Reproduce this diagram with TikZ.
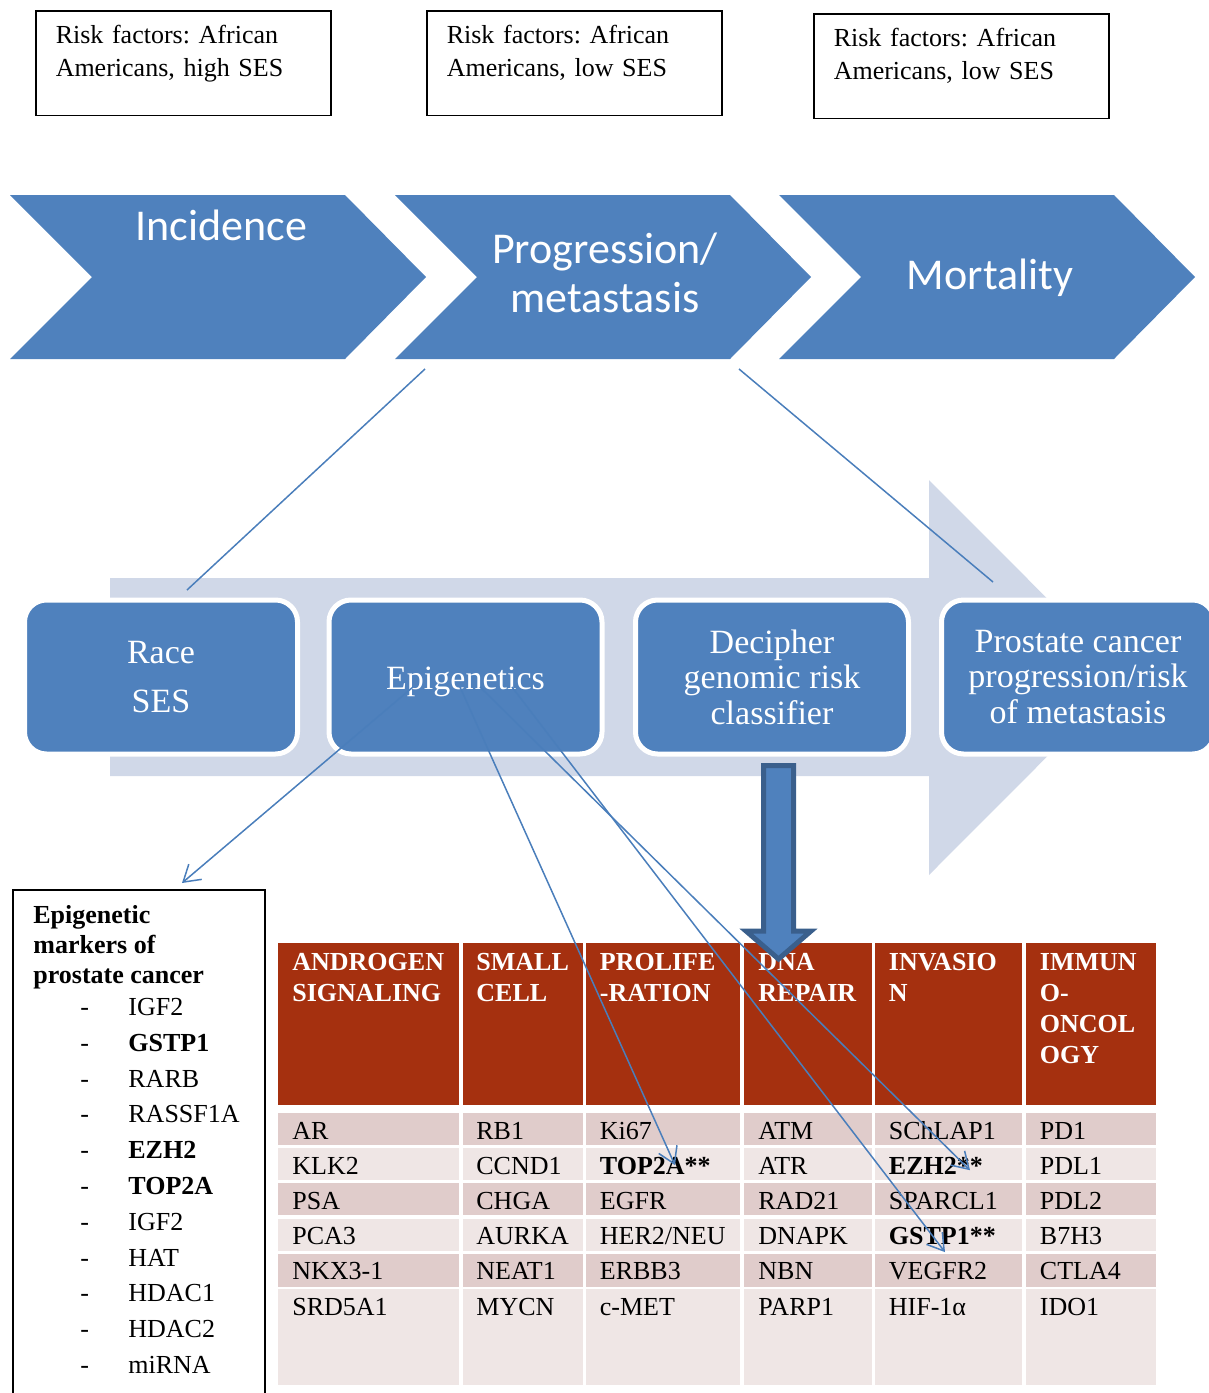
\documentclass[tikz,border=0pt]{standalone}
\usepackage{fontspec}
\setmainfont{Liberation Serif}
\newfontfamily\chevfont{Carlito}
\usetikzlibrary{arrows.meta, positioning}
\frenchspacing
\definecolor{cblue}{HTML}{4F81BD}
\definecolor{cbluedark}{HTML}{3A5F8C}
\definecolor{cpale}{HTML}{D0D8E8}
\definecolor{clink}{HTML}{4A7EBB}
\definecolor{cred}{HTML}{A5300F}
\definecolor{crowa}{HTML}{E0CCCB}
\definecolor{crowb}{HTML}{EFE6E5}

\begin{document}
\begin{tikzpicture}[
  x=0.5pt, y=-0.5pt,
  riskbox/.style={draw=black, line width=0.75pt, anchor=north west, align=left,
                  text width=127.5pt, inner xsep=10pt, inner ysep=7.3pt,
                  font=\fontsize{13}{16.5}\selectfont},
  chev/.style={fill=cblue},
  chevtext/.style={text=white, align=center, inner sep=0pt,
                   font=\chevfont\fontsize{22}{24.5}\selectfont},
  stage/.style={draw=white, line width=2.5pt, fill=cblue, rounded corners=11pt,
                text=white, align=center, minimum width=136.5pt, minimum height=77pt,
                inner sep=0pt, font=\fontsize{17}{17.75}\selectfont},
  headcell/.style={text=white, anchor=north west, align=left, inner sep=0pt,
                   font=\fontsize{13}{15.5}\selectfont\bfseries},
  cell/.style={anchor=base west, inner sep=0pt, font=\fontsize{13}{15}\selectfont},
  marktitle/.style={anchor=north west, align=left, inner sep=0pt,
                    font=\fontsize{13}{15}\selectfont\bfseries},
  link/.style={draw=clink, line width=0.75pt},
  linkto/.style={link, -{Straight Barb[length=8pt, width=10pt]}},
  bigarrow/.style={fill=cblue, draw=cbluedark, line width=2.5pt, line join=miter}
]
\path[use as bounding box, clip] (0,0) rectangle (1209,1393);

% risk factor boxes
\node[riskbox] (rf1) at (35,10)  {Risk factors: African\\Americans, high SES\rule[-12pt]{0pt}{12pt}};
\node[riskbox] (rf2) at (426,10) {Risk factors: African\\Americans, low SES\rule[-12pt]{0pt}{12pt}};
\node[riskbox] (rf3) at (813,13) {Risk factors: African\\Americans, low SES\rule[-12pt]{0pt}{12pt}};

% chevrons
\foreach \x/\n in {10/inc, 395/prog, 779/mort}
  \fill[chev] (\x,195) -- ++(335,0) -- ++(81,82) -- ++(-81,82) coordinate (\n-se)
              -- ++(-335,0) coordinate (\n-sw) -- ++(82,-82) -- cycle;
\node[chevtext, anchor=base] (inc)  at (221.5,240) {Incidence};
\node[chevtext]              (prog) at (605,273)   {Progression/\\metastasis};
\node[chevtext, anchor=base] (mort) at (990,289)   {Mortality};

% process arrow behind the stages
\fill[cpale] (110,578) -- (929,578) -- (929,480) -- (1126,677.5) -- (929,875)
             -- (929,776) -- (110,776) -- cycle;
\node[stage] (race)  at (161,677)   {Race\\[6.5pt]SES};
\node[stage] (epi)   at (465.5,677) {\rule{0pt}{16pt}Epigenetics};
\node[stage] (deci)  at (772,677)   {Decipher\\genomic risk\\classifier};
\node[stage] (prost) at (1078,677)  {Prostate cancer\\progression/risk\\of metastasis};

% epigenetic markers box
\node[draw, line width=0.75pt, anchor=north west, minimum width=126pt,
      minimum height=260pt, inner sep=0pt] (mark) at (12,889) {};
\node[marktitle] (mtitle) at (33,905) {Epigenetic\\markers of\\prostate cancer};
\foreach \g [count=\i] in {IGF2,\textbf{GSTP1},RARB,RASSF1A,\textbf{EZH2},\textbf{TOP2A},IGF2,HAT,HDAC1,HDAC2,miRNA} {
  \node[cell] (dash\i) at (80,{1015.5+35.8*(\i-1)}) {-};
  \node[cell] (gene\i) at (128,{1015.5+35.8*(\i-1)}) {\g};
}

% table
\foreach \xl/\xr in {278/459, 463/583, 586/740, 744/872, 875/1022, 1026/1156} {
  \fill[cred] (\xl,943) rectangle (\xr,1105);
  \foreach \t/\b/\tone in {1113/1145/crowa, 1148/1180/crowb, 1183/1215/crowa,
                           1219/1251/crowb, 1254/1287/crowa, 1289/1385/crowb}
    \fill[\tone] (\xl,\t) rectangle (\xr,\b);
}
\foreach \x/\hd [count=\col] in {292/{ANDROGEN\\SIGNALING}, 476/{SMALL\\CELL},
    599.5/{PROLIFE\\-RATION}, 758/{DNA\\REPAIR}, 888.5/{INVASIO\\N},
    1039.5/{IMMUN\\O-\\ONCOL\\OGY}}
  \node[headcell] (h\col) at (\x,953) {\hd};
\foreach \x/\genes [count=\col] in {292/{AR,KLK2,PSA,PCA3,NKX3-1,SRD5A1},
    476/{RB1,CCND1,CHGA,AURKA,NEAT1,MYCN},
    599.5/{Ki67,\textbf{TOP2A**},EGFR,HER2/NEU,ERBB3,c-MET},
    758/{ATM,ATR,RAD21,DNAPK,NBN,PARP1},
    888.5/{SChLAP1,\textbf{EZH2**},SPARCL1,\textbf{GSTP1**},VEGFR2,HIF-1α},
    1039.5/{PD1,PDL1,PDL2,B7H3,CTLA4,IDO1}}
  \foreach \g [count=\rr] in \genes
    \node[cell] (c\col-\rr) at (\x,{1139+35.2*(\rr-1)}) {\g};

% Decipher feeds the table
\filldraw[bigarrow] (763.5,765.5) -- (793.5,765.5) -- (793.5,931) -- (811,931)
                    -- (778.5,959) -- (746,931) -- (763.5,931) -- cycle;

% connectors
\draw[link] ([shift={(30,10)}]prog-sw) -- ([shift={(26,-7.5)}]race.north);
\draw[link] ([shift={(9,10)}]prog-se) -- ([shift={(54,-15.5)}]prost.north west);
\draw[linkto] ([shift={(-52.5,10)}]epi.center) -- ([shift={(170,-6)}]mark.north west);
\draw[linkto] ([shift={(-5.5,10)}]epi.center) -- ([shift={(75.5,-9)}]c3-2.base west);
\draw[linkto] ([shift={(14.5,10)}]epi.center) -- ([shift={(81.5,-4)}]c5-2.base west);
\draw[linkto] ([shift={(46.5,10)}]epi.center) -- ([shift={(56.5,7.5)}]c5-4.base west);
\end{tikzpicture}
\end{document}
